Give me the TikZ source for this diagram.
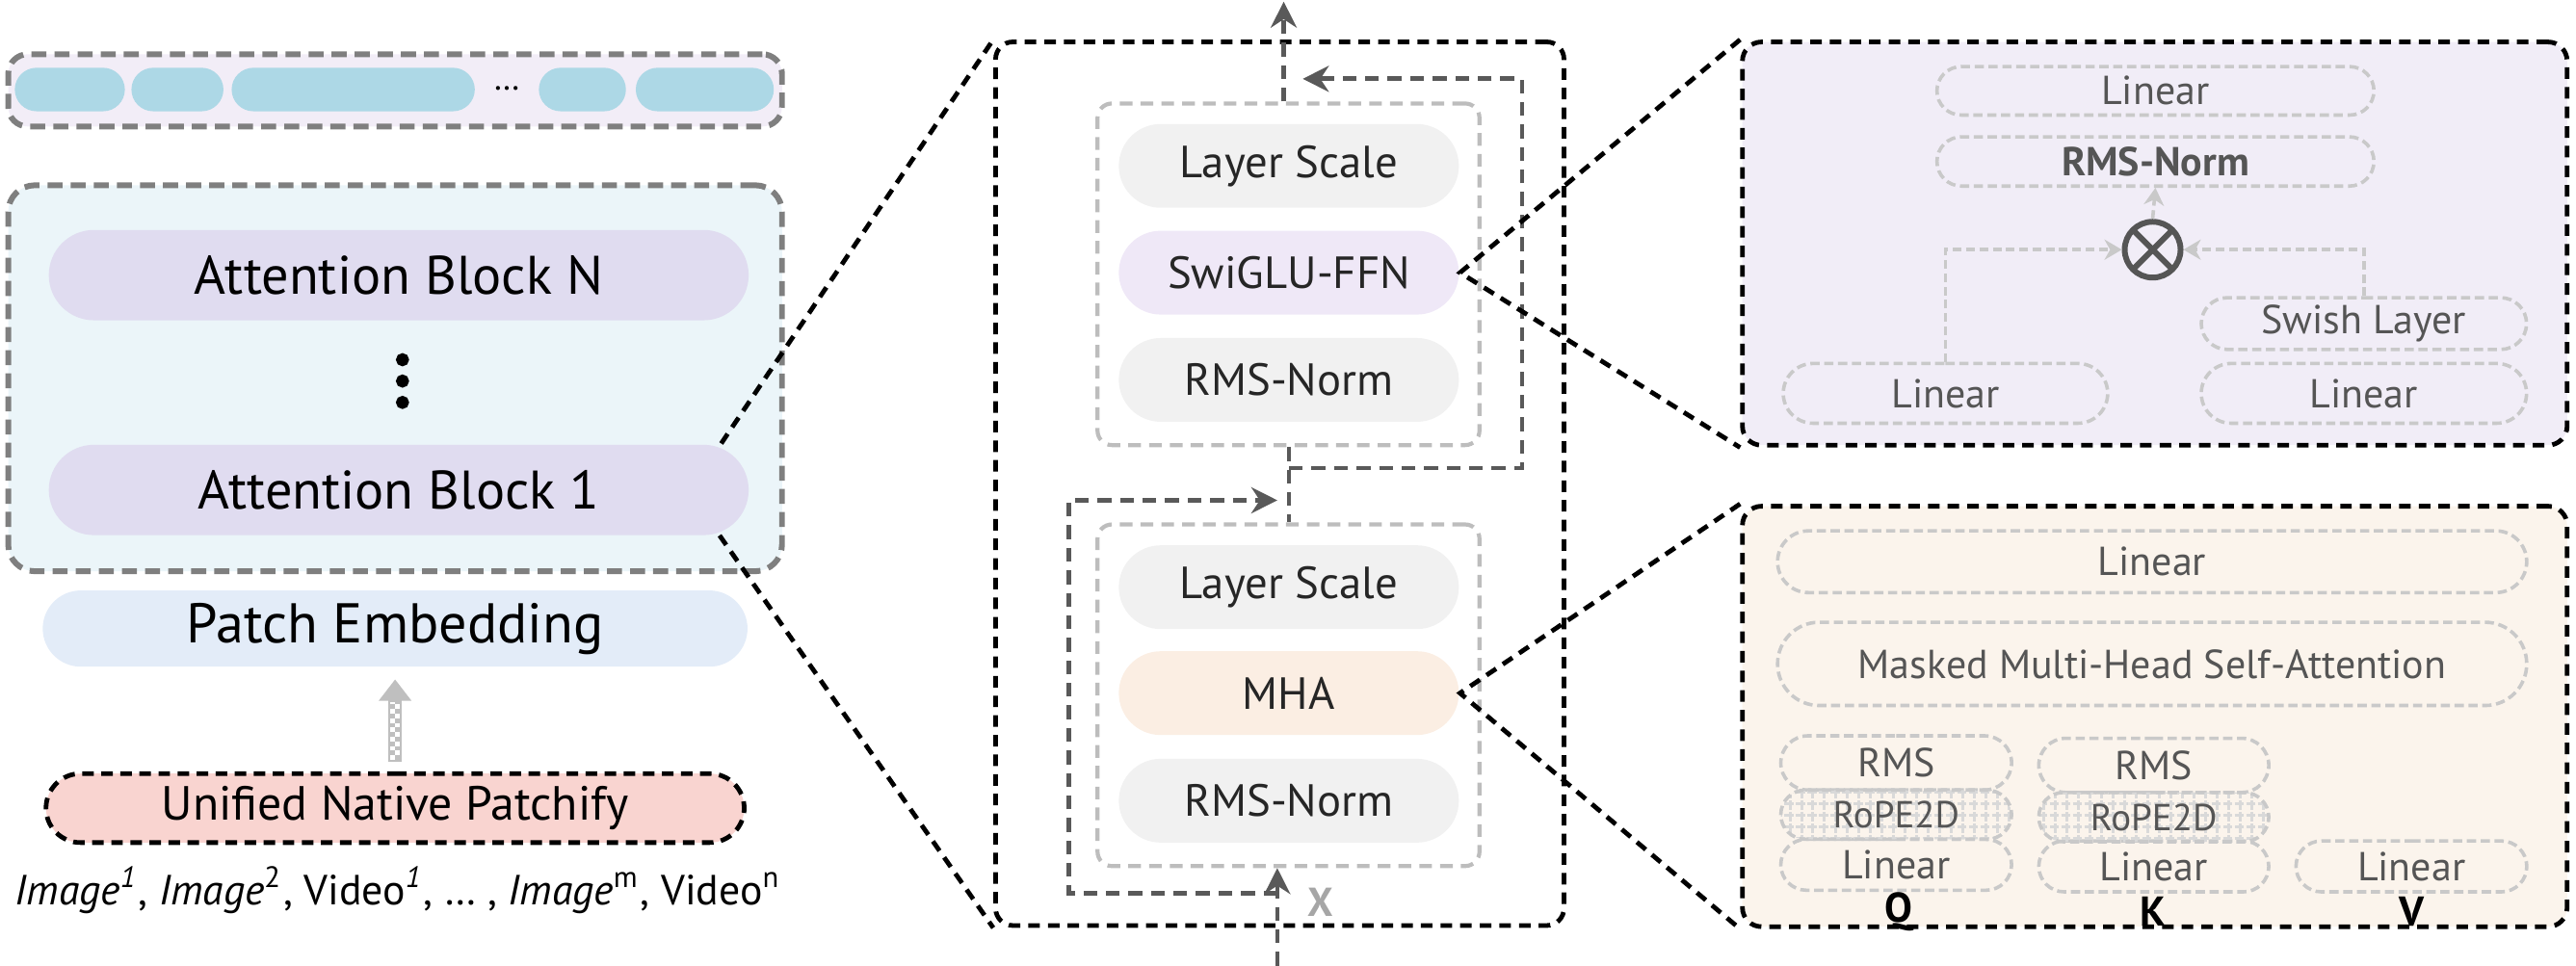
\documentclass[tikz,border=0pt]{standalone}
\usepackage{fontspec}
\setmainfont{PT Sans}
\usetikzlibrary{arrows.meta,shapes.misc,patterns.meta}

\definecolor{tokenbg}{HTML}{F2EDF7}
\definecolor{tokenfill}{HTML}{ADD8E6}
\definecolor{stackbg}{HTML}{EBF5F9}
\definecolor{blockfill}{HTML}{E0DCF0}
\definecolor{embedfill}{HTML}{E3ECF8}
\definecolor{patchfill}{HTML}{F9D4D0}
\definecolor{layerfill}{HTML}{F1F1F1}
\definecolor{ffnfill}{HTML}{EFE8F7}
\definecolor{mhafill}{HTML}{FBEEE3}
\definecolor{ffnbg}{HTML}{F1EDF7}
\definecolor{mhabg}{HTML}{FBF4EC}
\definecolor{framegray}{HTML}{7F7F7F}
\definecolor{boxgray}{HTML}{BDBDBD}
\definecolor{softgray}{HTML}{C9C9C9}
\definecolor{linegray}{HTML}{595959}
\definecolor{textgray}{HTML}{555555}
\definecolor{xgray}{HTML}{A6A6A6}

\begin{document}
\begin{tikzpicture}[x=0.1mm, y=-0.1mm,
  pill/.style={rounded rectangle, inner sep=0pt},
  token/.style={pill, fill=tokenfill, minimum height=2.65mm},
  block/.style={pill, fill=blockfill, minimum width=42.6mm, minimum height=5.5mm, font=\fontsize{9.4}{10}\selectfont},
  layer/.style={pill, minimum width=20.7mm, minimum height=5.1mm, text=black!85, font=\fontsize{7.8}{9}\selectfont},
  sub/.style={pill, draw=softgray, line width=0.6pt, dash pattern=on 1.6pt off 0.8pt, text=textgray, font=\fontsize{7}{8}\selectfont},
  rope/.style={sub, font=\fontsize{6.5}{7}\selectfont, pattern color=black!15,
    preaction={pattern={Lines[angle=0,distance=2pt,line width=0.5pt]}},
    pattern={Lines[angle=90,distance=2pt,line width=0.5pt]}},
  outerbox/.style={draw=framegray, line width=1pt, dash pattern=on 2.6pt off 1.4pt, inner sep=0pt},
  panel/.style={draw=black, line width=0.8pt, dash pattern=on 2pt off 1.4pt, rounded corners=3.3pt, inner sep=0pt},
  stagebox/.style={draw=boxgray, line width=0.7pt, dash pattern=on 2.2pt off 1.4pt, rounded corners=2.5pt, minimum width=23.25mm, minimum height=20.8mm},
  zoomline/.style={black, line width=0.8pt, dash pattern=on 2pt off 1.4pt},
  skip/.style={linegray, line width=0.8pt, dash pattern=on 2.4pt off 1.5pt},
  skiparrow/.style={skip, -{Stealth[length=4.5pt,width=4.5pt]}},
  softarrow/.style={softgray, line width=0.6pt, dash pattern=on 1.5pt off 0.8pt, -{Stealth[length=3pt,width=3.5pt]}},
  checker/.style={white, line width=0.8pt, dash pattern=on 0.8pt off 0.8pt, shorten <=0.7mm, shorten >=2.1mm},
  qkv/.style={font=\bfseries\fontsize{7.2}{8}\selectfont}
]
  \useasboundingbox (0,0) rectangle (1568,588);

  \node[outerbox, fill=tokenbg, rounded corners=3.4pt, minimum width=47.1mm, minimum height=4.4mm] (tokens) at (240.5,55) {};
  \node[token, minimum width=6.7mm] (t1) at (42.5,54.5) {};
  \node[token, minimum width=5.6mm] (t2) at (108,54.5) {};
  \node[token, minimum width=14.8mm] (t3) at (215,54.5) {};
  \node[font=\fontsize{6}{6}\selectfont] (tdots) at (308.5,54) {…};
  \node[token, minimum width=5.3mm] (t4) at (354.5,54.5) {};
  \node[token, minimum width=8.4mm] (t5) at (429,54.5) {};

  \node[outerbox, fill=stackbg, rounded corners=4.6pt, minimum width=47.1mm, minimum height=23.5mm] (stack) at (240.5,230.3) {};
  \node[block] (blockN) at (242.7,167.5) {Attention Block N};
  \filldraw[black] (245,219) circle (0.33mm);
  \filldraw[black] (245,232) circle (0.33mm);
  \filldraw[black] (245,245) circle (0.33mm);
  \node[block] (block1) at (242.7,298.3) {Attention Block 1};

  \node[pill, fill=embedfill, minimum width=42.9mm, minimum height=4.64mm, font=\fontsize{9.7}{10}\selectfont] (embed) at (240.5,382.7) {Patch Embedding};
  \node[pill, draw=black, line width=0.8pt, dash pattern=on 2pt off 1.3pt, fill=patchfill, minimum width=42.5mm, minimum height=4.2mm, font=\fontsize{8.3}{9}\selectfont] (patchify) at (240.5,492) {Unified Native Patchify};
  \node[font=\fontsize{7.3}{8}\selectfont] (inputs) at (242.5,542) {\textit{Image}\textsuperscript{\textit{1}}, \textit{Image}\textsuperscript{2}, Video\textsuperscript{\textit{1}}, … , \textit{Image}\textsuperscript{m}, Video\textsuperscript{n}};

  \draw[line width=2.4pt, gray!50, -{Triangle[length=1.3mm,width=1.9mm]}, shorten <=0.6mm, shorten >=0.7mm] (patchify.north) -- (embed.south);
  \draw[checker] ([xshift=-0.4pt]patchify.north) -- ([xshift=-0.4pt]embed.south);
  \draw[checker, dash phase=0.8pt] ([xshift=0.4pt]patchify.north) -- ([xshift=0.4pt]embed.south);

  \node[panel, rounded corners=3pt, minimum width=34.6mm, minimum height=53.8mm] (mid) at (779,294.5) {};
  \node[stagebox] (ffnbox) at (784.3,167) {};
  \node[layer, fill=layerfill] (scaleA) at (784.5,101) {Layer Scale};
  \node[layer, fill=ffnfill] (ffn) at (784.5,166) {SwiGLU-FFN};
  \node[layer, fill=layerfill] (normA) at (784.5,231.3) {RMS-Norm};
  \node[stagebox] (attnbox) at (784.3,423.3) {};
  \node[layer, fill=layerfill] (scaleB) at (784.5,357.5) {Layer Scale};
  \node[layer, fill=mhafill] (mha) at (784.5,422) {MHA};
  \node[layer, fill=layerfill] (normB) at (784.5,487.5) {RMS-Norm};

  \coordinate (out) at (781.4,1);
  \coordinate (in) at (777.5,588);
  \coordinate (fork) at (777.5,544);
  \coordinate (join) at (784.6,285);
  \coordinate (rejoinA) at (793,48);
  \coordinate (rejoinB) at (777.5,304.6);
  \draw[skiparrow] (ffnbox.north -| out) -- (out);
  \draw[skip] (ffnbox.south -| join) -- (attnbox.north -| join);
  \draw[skiparrow] (join) -| (926.5,48) -- (rejoinA);
  \draw[skiparrow] (in) -- (attnbox.south -| in);
  \draw[skiparrow] (fork) -| (650.6,304.6) -- (rejoinB);
  \node[text=xgray, font=\bfseries\fontsize{7}{8}\selectfont] (xin) at (804,549.5) {X};

  \node[panel, fill=ffnbg, minimum width=50.2mm, minimum height=24.55mm] (ffnpanel) at (1311.6,148.3) {};
  \node[sub, minimum width=26.6mm, minimum height=2.95mm] (linC) at (1312,55.3) {Linear};
  \node[sub, minimum width=26.6mm, minimum height=3mm, font=\bfseries\fontsize{7}{8}\selectfont] (normC) at (1312,98.3) {RMS-Norm};
  \node[circle, draw=textgray, line width=1pt, minimum size=3.4mm, inner sep=0pt,
    path picture={\draw[textgray, line width=1pt] (path picture bounding box.north west) -- (path picture bounding box.south east) (path picture bounding box.north east) -- (path picture bounding box.south west);}] (mult) at (1310.3,152) {};
  \node[sub, minimum width=19.75mm, minimum height=3.64mm] (linL) at (1184.2,239.5) {Linear};
  \node[sub, minimum width=19.8mm, minimum height=3.15mm] (swish) at (1438.9,197) {Swish Layer};
  \node[sub, minimum width=19.8mm, minimum height=3.64mm] (linR) at (1438.9,239.5) {Linear};
  \draw[softarrow] (linL.north) |- (mult.west);
  \draw[softarrow] (swish.north) |- (mult.east);
  \draw[softarrow] (mult.north) -- (normC.south);

  \node[panel, fill=mhabg, minimum width=50.2mm, minimum height=25.6mm] (mhapanel) at (1311.6,436.2) {};
  \node[sub, minimum width=45.6mm, minimum height=3.76mm] (linD) at (1310,342) {Linear};
  \node[sub, minimum width=45.6mm, minimum height=5.07mm] (attn) at (1310,404.2) {Masked Multi-Head Self-Attention};
  \node[sub, minimum width=14.05mm, minimum height=3.3mm] (normQ) at (1154.2,464.5) {RMS};
  \node[sub, minimum width=14.05mm, minimum height=3.1mm] (linQ) at (1154.2,526.5) {Linear};
  \node[rope, minimum width=14.05mm, minimum height=3mm] (ropeQ) at (1154.2,496) {RoPE2D};
  \node[sub, minimum width=14mm, minimum height=3.3mm] (normK) at (1311,466) {RMS};
  \node[sub, minimum width=14mm, minimum height=3.1mm] (linK) at (1311,527.5) {Linear};
  \node[rope, minimum width=14mm, minimum height=3mm] (ropeK) at (1311,497.5) {RoPE2D};
  \node[sub, minimum width=14.05mm, minimum height=3.1mm] (linV) at (1467.8,527.5) {Linear};
  \node[qkv] (q) at (1155.8,555) {Q};
  \node[qkv] (k) at (1310.3,555) {K};
  \node[qkv] (v) at (1467.8,555) {V};

  \coordinate (b1top) at (439,270);
  \coordinate (b1bot) at (438,326);
  \draw[zoomline] (b1top) -- (mid.north west);
  \draw[zoomline] (b1bot) -- (mid.south west);
  \draw[zoomline] (ffnpanel.north west) -- (ffn.east) -- (ffnpanel.south west);
  \draw[zoomline] (mhapanel.north west) -- (mha.east) -- (mhapanel.south west);
\end{tikzpicture}
\end{document}
